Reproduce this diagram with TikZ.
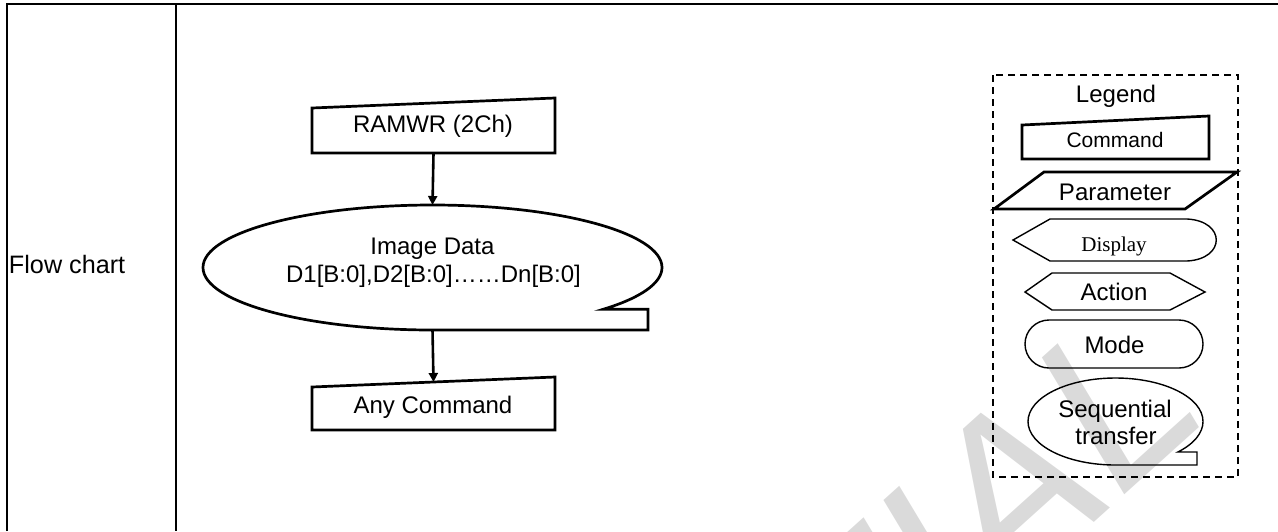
\documentclass[tikz,border=0pt]{standalone}
\usepackage{fontspec}
\setmainfont{Liberation Sans}
\newfontfamily\seriffont{Liberation Serif}
\usetikzlibrary{arrows.meta,calc,shapes.geometric}
\definecolor{wmgrey}{RGB}{218,218,218}
\begin{document}
\begin{tikzpicture}[x=0.5pt,y=-0.5pt,
  every node/.style={inner sep=0pt,outer sep=0pt},
  lab/.style={font=\fontsize{12}{14}\selectfont},
  heavy/.style={line width=1.35pt,line join=miter},
  light/.style={line width=0.7pt},
  tbl/.style={line width=1pt},
  arr/.style={line width=1.3pt,-{Triangle[length=4.5pt,width=4.5pt]}},
  legendframe/.style={line width=0.85pt,dash pattern=on 3.5pt off 2.5pt},
  wm/.style={text=wmgrey,font=\fontsize{114}{114}\selectfont\itshape}
]
\useasboundingbox (0,0) rectangle (1278,531);
% watermark
\begin{scope}
\clip (0,0) rectangle (1278,531);
\node[wm,rotate=42,anchor=base east] (wmark) at (1213.4,414.5) {CONFIDENTIAL};
\end{scope}
% table frame
\draw[tbl] (7,531) -- (7,4) -- (1278,4);
\draw[tbl] (176,4) -- (176,531);
\node[font=\fontsize{12.6}{14}\selectfont,anchor=base west] (flowlbl) at (9,273) {Flow chart};
% flow chart
\node[minimum width=121.5pt,minimum height=27.5pt] (ram) at (433.5,125.5) {};
\draw[heavy] (ram.south west) -- (ram.south east) -- (ram.north east) -- ([yshift=-5pt]ram.north west) -- cycle;
\node[lab,anchor=base] (ramtxt) at (433,132) {RAMWR (2Ch)};
\node[ellipse,minimum width=229.5pt,minimum height=62.5pt] (img) at (432.5,267.5) {};
\draw[heavy] (img.south) arc[start angle=90,end angle=402,x radius=229.5,y radius=62.5] -- (648,309.3) -- (648,330) -- cycle;
\node[lab,anchor=base] (imgt1) at (432.5,254) {Image Data};
\node[lab,anchor=base] (imgt2) at (433.5,282) {D1[B:0],D2[B:0]……Dn[B:0]};
\node[minimum width=121.5pt,minimum height=26.5pt] (any) at (433.5,403.5) {};
\draw[heavy] (any.south west) -- (any.south east) -- (any.north east) -- ([yshift=-5pt]any.north west) -- cycle;
\node[lab,anchor=base] (anytxt) at (433,413) {Any Command};
\coordinate (anyin) at ($(any.north)+(0,5)$);
\draw[arr] (ram.south) -- (img.north);
\draw[arr] (img.south) -- (anyin);
% legend
\draw[legendframe] (993,75) rectangle (1238,477);
\node[lab,anchor=base] (legt) at (1116,102) {Legend};
\node[minimum width=93.5pt,minimum height=21.5pt] (lcmd) at (1115.5,137.5) {};
\draw[heavy] (lcmd.south west) -- (lcmd.south east) -- (lcmd.north east) -- ([yshift=-4.5pt]lcmd.north west) -- cycle;
\node[font=\fontsize{10.5}{12}\selectfont,anchor=base] (lcmdt) at (1115,147) {Command};
\draw[heavy] (994,209) -- (1185,209) -- (1237,172) -- (1044,172) -- cycle;
\node[lab,anchor=base] (lpart) at (1115,200) {Parameter};
\draw[light] (1013,240) -- (1050,219) -- (1187,219) .. controls (1226,221) and (1226,259) .. (1187,261) -- (1050,261) -- cycle;
\node[font=\seriffont\fontsize{10.5}{12}\selectfont,anchor=base] (ldispt) at (1114,251) {Display};
\draw[light] (1025,292) -- (1052,273) -- (1170,273) -- (1205,292) -- (1170,310) -- (1052,310) -- cycle;
\node[lab,anchor=base] (lactt) at (1114,300) {Action};
\draw[light,rounded corners=12pt] (1025,320) rectangle (1203,368);
\node[lab,anchor=base] (lmodet) at (1114.5,353) {Mode};
\node[ellipse,minimum width=87.5pt,minimum height=43.5pt] (lseq) at (1115.5,421.5) {};
\draw[light] (lseq.south) arc[start angle=90,end angle=404.5,x radius=87.5,y radius=43.5] -- (1197,452) -- (1197,465) -- cycle;
\node[lab,anchor=base] (lseqt1) at (1115,417) {Sequential};
\node[lab,anchor=base] (lseqt2) at (1116,444) {transfer};
\end{tikzpicture}
\end{document}
